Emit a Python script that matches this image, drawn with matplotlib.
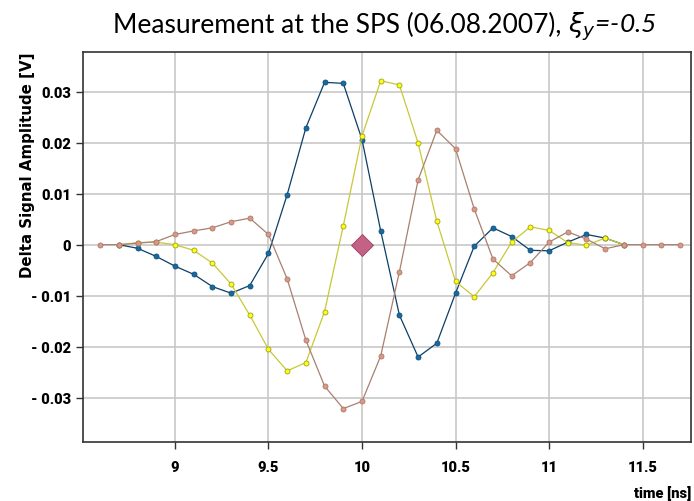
import numpy as np
import matplotlib.pyplot as plt

# time axis [ns]
t_long = [8.6, 8.7, 8.8, 8.9, 9.0, 9.1, 9.2, 9.3, 9.4, 9.5, 9.6, 9.7, 9.8, 9.9,
          10.0, 10.1, 10.2, 10.3, 10.4, 10.5, 10.6, 10.7, 10.8, 10.9, 11.0,
          11.1, 11.2, 11.3, 11.4, 11.5, 11.6, 11.7]
t_short = t_long[1:29]  # 8.7 .. 11.4

brown = [0, 0, 0.0003, 0.0006, 0.0020, 0.0027, 0.0033, 0.0045, 0.0052, 0.0020,
         -0.0067, -0.0187, -0.0277, -0.0321, -0.0307, -0.0218, -0.0053, 0.0127,
         0.0224, 0.0188, 0.0070, -0.0028, -0.0061, -0.0035, 0.0005, 0.0025,
         0.0011, -0.0008, 0, 0, 0, 0]

blue = [0, -0.0007, -0.0023, -0.0042, -0.0058, -0.0082, -0.0095, -0.0080,
        -0.0017, 0.0098, 0.0229, 0.0318, 0.0316, 0.0206, 0.0027, -0.0138,
        -0.0220, -0.0193, -0.0095, -0.0003, 0.0033, 0.0016, -0.0011, -0.0012,
        0.0005, 0.0020, 0.0013, 0]

yellow = [0, 0.0004, 0.0005, 0.0000, -0.0011, -0.0036, -0.0077, -0.0138,
          -0.0205, -0.0247, -0.0231, -0.0131, 0.0037, 0.0213, 0.0321, 0.0313,
          0.0199, 0.0046, -0.0072, -0.0102, -0.0055, 0.0005, 0.0035, 0.0028,
          0.0004, -0.0001, 0.0013, 0]

diamond_t = [10.0]
diamond_v = [0.0]

xticks = [9, 9.5, 10, 10.5, 11, 11.5]
xtick_labels = ['9', '9.5', '10', '10.5', '11', '11.5']
yticks = [-0.03, -0.02, -0.01, 0, 0.01, 0.02, 0.03]
ytick_labels = ['- 0.03', '- 0.02', '- 0.01', '0', '0.01', '0.02', '0.03']

fig = plt.figure(figsize=(6.94, 5.02), dpi=100)
ax = fig.add_axes([0.12, 0.118, 0.876, 0.777])

tick_font = dict(family='Roboto', weight=900, size=10.5)

ax.plot(t_short, blue, '-o', color='#0b3f66', lw=0.9, ms=3.6,
        mfc='#1a6aa0', mec='#0b4f80', mew=0.6, zorder=3)
ax.plot(t_short, yellow, '-o', color='#c8c838', lw=0.9, ms=3.6,
        mfc='#ffff10', mec='#a0a020', mew=0.6, zorder=4)
ax.plot(t_long, brown, '-o', color='#a88070', lw=0.9, ms=3.6,
        mfc='#d89a88', mec='#b07868', mew=0.6, zorder=5)
ax.plot(diamond_t, diamond_v, 'D', color='#c46285', mec='#9a4060', mew=0.6,
        ms=11, zorder=6)

ax.set_xlim(8.51, 11.76)
ax.set_ylim(-0.0386, 0.0378)
ax.set_xticks(xticks)
ax.set_xticklabels(xtick_labels, fontdict=tick_font)
ax.set_yticks(yticks)
ax.set_yticklabels(ytick_labels, fontdict=tick_font)
ax.tick_params(direction='out', length=5, width=1, color='#333333', pad=4)
ax.tick_params(axis='x', pad=8)

ax.grid(True, color='#c8c8c8', lw=1.2)
ax.set_axisbelow(True)
for s in ax.spines.values():
    s.set_color('#333333')
    s.set_linewidth(1.2)

# y label placed explicitly, top aligned with the axes frame
fig.text(28 / 694, 1 - 53 / 502, 'Delta Signal Amplitude [V]', rotation=90,
         ha='center', va='top', fontsize=10.8, fontweight='bold',
         family='DejaVu Sans')
ax.set_xlabel('time [ns]', loc='right', fontdict=tick_font, labelpad=8)

# title with italic xi_y part
t1 = fig.text(0.163, 0.935, 'Measurement at the SPS (06.08.2007), ',
              fontsize=19, family='Lato', va='baseline')
fig.canvas.draw()
bb = t1.get_window_extent()
x2 = bb.x1 / fig.bbox.width
fig.text(x2, 0.935, r'$\xi_y$=-0.5', fontsize=19, family='Lato',
         style='italic', va='baseline')

fig.savefig('out.png', dpi=100)
